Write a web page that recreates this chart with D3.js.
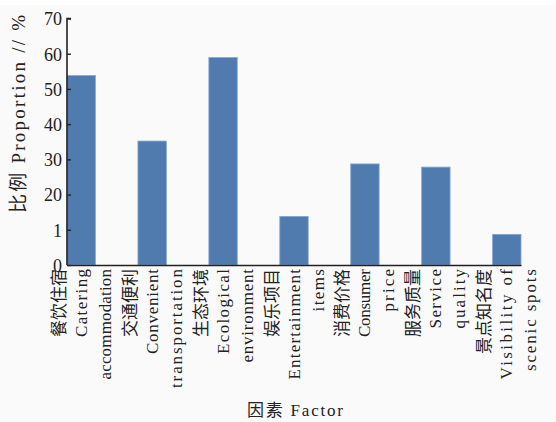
<!DOCTYPE html>
<html>
<head>
<meta charset="utf-8">
<script src="https://cdn.jsdelivr.net/npm/d3@7"></script>
<style>
  body { margin: 0; background: #fafafa; }
  svg { display: block; }
  .tick text, .lbl, .ttl { font-family: "Liberation Serif", "Noto Sans CJK SC", serif; fill: #222; }
</style>
</head>
<body>
<div id="container"></div>
<script>
// categories, one entry per bar: chinese name + english name split over two lines
const catZh = ["餐饮住宿", "交通便利", "生态环境", "娱乐项目", "消费价格", "服务质量", "景点知名度"];
const catEn1 = ["Catering", "Convenient", "Ecological", "Entertainment", "Consumer", "Service", "Visibility of"];
const catEn2 = ["accommodation", "transportation", "environment", "items", "price", "quality", "scenic spots"];
const proportion = [53.8, 35.2, 58.9, 13.8, 28.7, 27.8, 8.7];
const yTicks = [0, 10, 20, 30, 40, 50, 60, 70];
const yTickLabels = ["0", "1", "20", "30", "40", "50", "60", "70"]; // "10" is printed as "1" in the original

const width = 556, height = 422;
const margin = { top: 18.5, right: 35, bottom: 157, left: 67 };

const svg = d3.select("#container").append("svg")
  .attr("width", width)
  .attr("height", height);

// thin white strip along the top like the scan
svg.append("rect").attr("width", width).attr("height", 5).attr("fill", "#fff");

const x = d3.scaleBand()
  .domain(catZh)
  .range([margin.left, width - margin.right])
  .paddingInner(0.6)
  .paddingOuter(0)
  .align(0);

const y = d3.scaleLinear()
  .domain([0, 70])
  .range([height - margin.bottom, margin.top]);

// bars
svg.append("g")
  .selectAll("rect")
  .data(proportion)
  .join("rect")
  .attr("x", (d, i) => x(catZh[i]))
  .attr("y", d => y(d))
  .attr("width", x.bandwidth())
  .attr("height", d => y(0) - y(d))
  .attr("fill", "#4f7baf")
  .attr("stroke", "#86a5cf")
  .attr("stroke-width", 0.8);

// y axis, ticks pointing inward
const yAxis = svg.append("g")
  .attr("transform", `translate(${margin.left},0)`)
  .call(d3.axisRight(y).tickValues(yTicks).tickSize(4)
    .tickFormat((d, i) => yTickLabels[i]));
yAxis.select(".domain").attr("stroke", "#222").attr("stroke-width", 1.6)
  .attr("d", `M4,${y(70)}H0V${y(0)}`);
yAxis.selectAll(".tick line").attr("stroke", "#222").attr("stroke-width", 1.4);
yAxis.selectAll(".tick text")
  .attr("x", -5)
  .attr("text-anchor", "end")
  .attr("dy", "0.35em")
  .style("font-size", "18px");

// x axis line
const xAxis = svg.append("g")
  .attr("transform", `translate(0,${y(0)})`)
  .call(d3.axisBottom(x).tickSize(0).tickFormat(""));
xAxis.select(".domain").attr("stroke", "#222").attr("stroke-width", 1.6);

// rotated category labels, three columns per bar
const lines = [catZh, catEn1, catEn2];
const offs = [-22, 0, 24];
const lbl = svg.append("g");
catZh.forEach((c, i) => {
  const cx = x(c) + x.bandwidth() / 2;
  lines.forEach((arr, j) => {
    const t = lbl.append("text")
      .attr("class", "lbl")
      .attr("transform", `translate(${cx + offs[j]},${y(0) + 4}) rotate(-90)`)
      .attr("text-anchor", "end")
      .attr("dominant-baseline", "central")
      .style("font-size", "17px")
      .text(arr[i]);
    // the original latin text is half-width, roughly 8.5px a character
    if (j > 0) t.attr("textLength", arr[i].length * 8.5).attr("lengthAdjust", "spacing");
  });
});

// axis titles
svg.append("text")
  .attr("class", "ttl")
  .attr("transform", `translate(18,114) rotate(-90)`)
  .attr("text-anchor", "middle")
  .attr("dominant-baseline", "central")
  .attr("textLength", 198)
  .attr("lengthAdjust", "spacing")
  .style("font-size", "19px")
  .text("比例 Proportion // %");

svg.append("text")
  .attr("class", "ttl")
  .attr("x", 295)
  .attr("y", 416)
  .attr("text-anchor", "middle")
  .attr("textLength", 96)
  .attr("lengthAdjust", "spacing")
  .style("font-size", "17px")
  .text("因素 Factor");
</script>
</body>
</html>
